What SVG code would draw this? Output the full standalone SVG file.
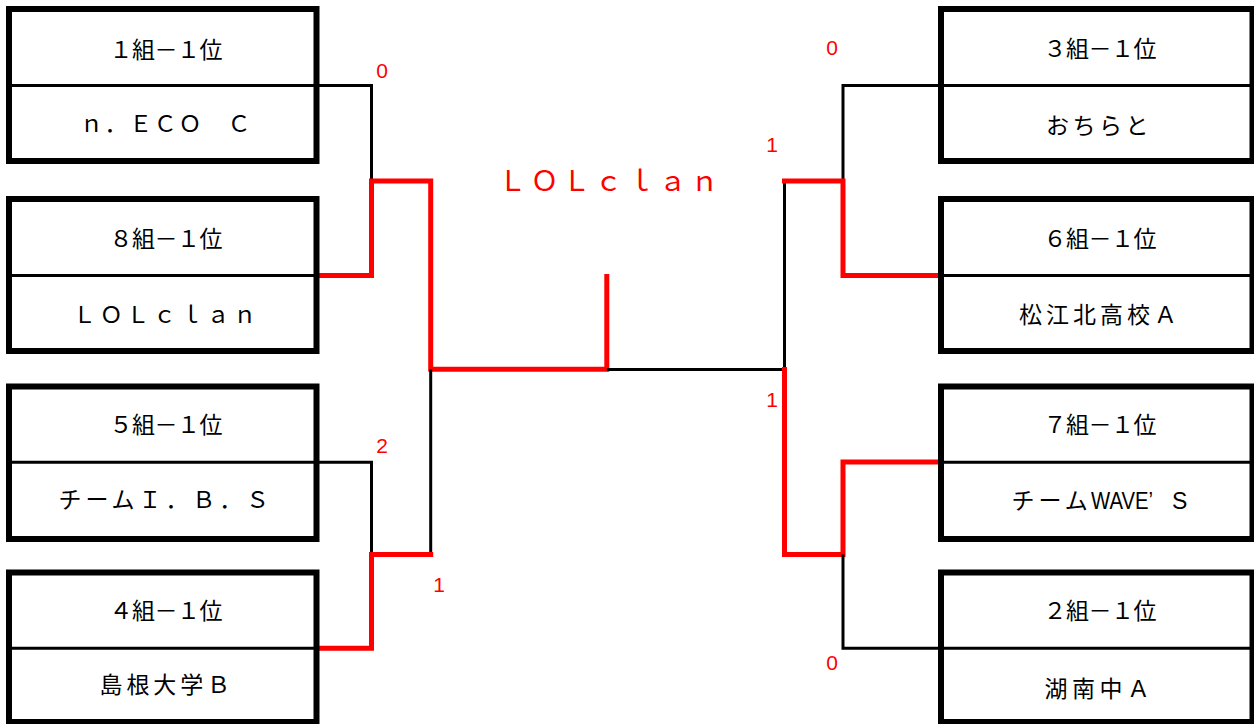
<svg xmlns="http://www.w3.org/2000/svg" width="1254" height="724" viewBox="0 0 1254 724">
<style>
.frame{fill:#fff;stroke:#000;stroke-width:6}
.div{stroke:#000;stroke-width:3}
.lbl{font-family:"Liberation Sans","Noto Sans CJK JP",sans-serif;font-size:23px;fill:#000}
.win{fill:none;stroke:#ff0000;stroke-width:5;stroke-linejoin:miter;stroke-linecap:square}
.lose{fill:none;stroke:#000;stroke-width:3}
.score{font-family:"Liberation Sans","Noto Sans CJK JP",sans-serif;font-size:21px;fill:#ff0000;text-anchor:middle}
.title{font-family:"Liberation Sans","Noto Sans CJK JP",sans-serif;font-size:28px;fill:#ff0000;letter-spacing:4px}
</style>
<rect width="1254" height="724" fill="#fff"/>
<g id="connectors">
  <path class="lose" d="M316.5 85.5H371.5V181"/>
  <path class="win" d="M316.5 275.5H371.5V181H430.7V369.3H606.8V276.5"/>
  <path class="lose" d="M316.5 462.3H371.5V554.5"/>
  <path class="lose" d="M430.7 369.3V554.5"/>
  <path class="win" d="M316.5 648.3H371.5V554.5H430.7"/>
  <path class="lose" d="M606.8 369.5H784.5V181"/>
  <path class="lose" d="M941 85.5H843V181"/>
  <path class="win" d="M941 275.5H843V181H784.5"/>
  <path class="win" d="M784.5 369.5V554.5H843V462H941"/>
  <path class="lose" d="M941 648.3H843V554.5"/>
</g>
<g id="scores">
  <text class="score" x="382" y="78">0</text>
  <text class="score" x="382" y="453">2</text>
  <text class="score" x="439" y="592">1</text>
  <text class="score" x="832" y="55">0</text>
  <text class="score" x="772" y="152">1</text>
  <text class="score" x="772" y="407">1</text>
  <text class="score" x="832" y="670">0</text>
</g>
<g id="winner">
  <text class="title" x="498.5" y="191">ＬＯＬｃｌａｎ</text>
</g>
<g id="team-1">
  <rect class="frame" x="9" y="9" width="307.5" height="152"/>
  <line class="div" x1="9" y1="85.5" x2="316.5" y2="85.5"/>
  <text class="lbl" x="109.5" y="58" letter-spacing="-0.5">１組－１位</text>
  <text class="lbl" x="80" y="132" letter-spacing="1.6">ｎ．ＥＣＯ　Ｃ</text>
</g>
<g id="team-8">
  <rect class="frame" x="9" y="199" width="307.5" height="152"/>
  <line class="div" x1="9" y1="275.5" x2="316.5" y2="275.5"/>
  <text class="lbl" x="109.5" y="247" letter-spacing="-0.5">８組－１位</text>
  <text class="lbl" x="73" y="323" letter-spacing="3.7">ＬＯＬｃｌａｎ</text>
</g>
<g id="team-5">
  <rect class="frame" x="9" y="386.5" width="307.5" height="152.5"/>
  <line class="div" x1="9" y1="462.3" x2="316.5" y2="462.3"/>
  <text class="lbl" x="109.5" y="433" letter-spacing="-0.5">５組－１位</text>
  <text class="lbl" x="58.5" y="508" letter-spacing="3.9">チームＩ．Ｂ．Ｓ</text>
</g>
<g id="team-4">
  <rect class="frame" x="9" y="572.5" width="307.5" height="149.5"/>
  <line class="div" x1="9" y1="648.3" x2="316.5" y2="648.3"/>
  <text class="lbl" x="109.5" y="619" letter-spacing="-0.5">４組－１位</text>
  <text class="lbl" x="99.5" y="693" letter-spacing="3.9">島根大学Ｂ</text>
</g>
<g id="team-3">
  <rect class="frame" x="941" y="9" width="311.5" height="152"/>
  <line class="div" x1="941" y1="85.5" x2="1252.5" y2="85.5"/>
  <text class="lbl" x="1043.5" y="57" letter-spacing="-0.5">３組－１位</text>
  <text class="lbl" x="1046" y="134" letter-spacing="3.5">おちらと</text>
</g>
<g id="team-6">
  <rect class="frame" x="941" y="199" width="311.5" height="152"/>
  <line class="div" x1="941" y1="275.5" x2="1252.5" y2="275.5"/>
  <text class="lbl" x="1043.5" y="247" letter-spacing="-0.5">６組－１位</text>
  <text class="lbl" x="1019" y="323" letter-spacing="4">松江北高校Ａ</text>
</g>
<g id="team-7">
  <rect class="frame" x="941" y="386.5" width="311.5" height="152.5"/>
  <line class="div" x1="941" y1="462.3" x2="1252.5" y2="462.3"/>
  <text class="lbl" x="1043.5" y="433" letter-spacing="-0.5">７組－１位</text>
  <text class="lbl" x="1011.5" y="509" letter-spacing="4">チーム<tspan x="1091" letter-spacing="0" textLength="62" lengthAdjust="spacingAndGlyphs">WAVE’</tspan><tspan x="1172" letter-spacing="0">S</tspan></text>
</g>
<g id="team-2">
  <rect class="frame" x="941" y="572.5" width="311.5" height="149.5"/>
  <line class="div" x1="941" y1="648.3" x2="1252.5" y2="648.3"/>
  <text class="lbl" x="1043.5" y="619" letter-spacing="-0.5">２組－１位</text>
  <text class="lbl" x="1044.5" y="697" letter-spacing="4.5">湖南中Ａ</text>
</g>
</svg>
